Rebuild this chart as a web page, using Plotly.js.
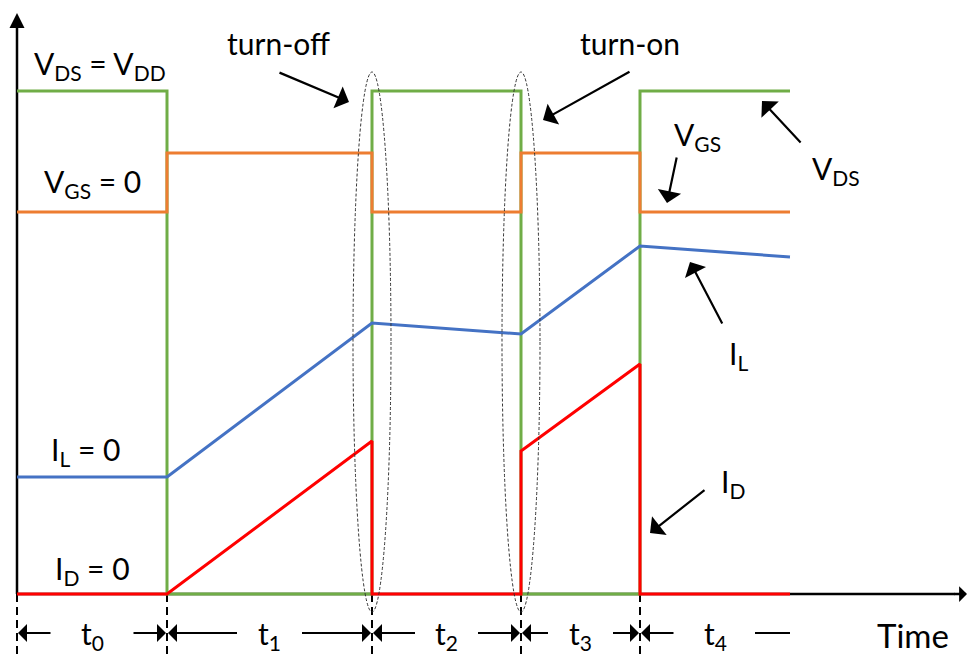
<!DOCTYPE html>
<html>
<head>
<meta charset="utf-8">
<script src="https://cdn.plot.ly/plotly-3.0.1.min.js"></script>
<style>html,body{margin:0;padding:0;background:#fff}#chart{width:968px;height:657px}</style>
</head>
<body>
<div id="chart"></div>
<script>
// ---- data (time in arbitrary units, levels in arbitrary units) ----
const tBound   = [0, 150, 355, 504, 623, 773];          // interval boundaries t0..t4
const tLabels  = ['t<sub>0</sub>', 't<sub>1</sub>', 't<sub>2</sub>', 't<sub>3</sub>', 't<sub>4</sub>'];

const vdsTime  = [0, 150, 150, 355, 355, 504, 504, 623, 623, 773];
const vdsLevel = [503, 503, 0, 0, 503, 503, 0, 0, 503, 503];

const vgsTime  = [0, 150, 150, 355, 355, 504, 504, 623, 623, 773];
const vgsLevel = [382, 382, 441, 441, 382, 382, 441, 441, 382, 382];

const ilTime   = [0, 150, 355, 504, 623, 773];
const ilLevel  = [117, 117, 271, 260, 348, 337];

const idTime   = [0, 150, 355, 355, 504, 504, 623, 623, 773];
const idLevel  = [0, 0, 153, 0, 0, 143, 230, 0, 0];

// ---- styles ----
const FONT = 'Lato, "Noto Sans", sans-serif';
const GREEN = '#70AD47', ORANGE = '#ED7D31', BLUE = '#4472C4', RED = '#FF0000';
const LW = 3;
const dimY = -39;            // level of the dimension arrows
const axisTop = 581, axisRight = 950;

const traces = [];
// axes lines (drawn first, under the signals)
traces.push({x: [0, axisRight - 12], y: [0, 0], mode: 'lines', line: {color: '#000', width: 2.5}, hoverinfo: 'skip'});
traces.push({x: [0, 0], y: [0, axisTop - 12], mode: 'lines', line: {color: '#000', width: 2.5}, hoverinfo: 'skip'});
// dashed boundary markers below the time axis
tBound.slice(0, 5).forEach(t => {
  traces.push({x: [t, t], y: [0, -63], mode: 'lines', line: {color: '#000', width: 2, dash: '8px,5px'}, hoverinfo: 'skip'});
});
traces.push({x: vdsTime, y: vdsLevel, mode: 'lines', line: {color: GREEN, width: LW}, hoverinfo: 'skip'});
traces.push({x: vgsTime, y: vgsLevel, mode: 'lines', line: {color: ORANGE, width: LW}, hoverinfo: 'skip'});
traces.push({x: ilTime, y: ilLevel, mode: 'lines', line: {color: BLUE, width: LW}, hoverinfo: 'skip'});
traces.push({x: idTime, y: idLevel, mode: 'lines', line: {color: RED, width: LW}, hoverinfo: 'skip'});

const ann = [];
function label(text, x, y, size, xanchor) {
  ann.push({text: text, x: x, y: y, xref: 'x', yref: 'y', showarrow: false,
            xanchor: xanchor || 'center', yanchor: 'middle',
            font: {family: FONT, size: size, color: '#000'}});
}
function arrow(x0, y0, x1, y1, head, width, size) {
  ann.push({text: '', x: x1, y: y1, ax: x0, ay: y0, xref: 'x', yref: 'y', axref: 'x', ayref: 'y',
            showarrow: true, arrowhead: head, arrowwidth: width, arrowsize: size, arrowcolor: '#000'});
}
// axis arrowheads
arrow(axisRight - 14, 0, axisRight, 0, 1, 2.5, 1.05);
arrow(0, axisTop - 16, 0, axisTop, 2, 2.5, 1.2);

// left labels
label('V<sub>DS</sub> = V<sub>DD</sub>', 83, 529, 30);
label('V<sub>GS</sub> = 0', 75, 411, 30);
label('I<sub>L</sub> = 0', 68, 143, 30);
label('I<sub>D</sub> = 0', 75, 24, 30);

// pointer labels
label('turn-off', 261, 551, 30);
label('turn-on', 613, 551, 30);
arrow(261, 522, 332, 492, 1, 2.2, 1.8);
arrow(614, 523, 526, 474, 1, 2.2, 1.8);

label('V<sub>DS</sub>', 819, 424, 30);
arrow(785, 450, 745, 493, 1, 2.2, 1.8);
label('V<sub>GS</sub>', 680, 458, 30);
arrow(660, 438, 650, 391, 1, 2.2, 1.8);
label('I<sub>L</sub>', 721, 239, 30);
arrow(706, 269, 673, 332, 1, 2.2, 1.8);
label('I<sub>D</sub>', 716, 111, 30);
arrow(689, 105, 633, 61, 1, 2.2, 1.8);

// dimension arrows and interval labels
const gaps = [40, 31, 30, 31, 40];
for (let i = 0; i < 5; i++) {
  const a = tBound[i], b = tBound[i + 1], c = (a + b) / 2, g = gaps[i];
  label(tLabels[i], c, dimY - 2, 30);
  arrow(c - g, dimY, a + 1, dimY, 1, 2, 1.5);
  if (i < 4) {
    arrow(c + g, dimY, b - 1, dimY, 1, 2, 1.5);
  } else {
    traces.push({x: [c + g, b], y: [dimY, dimY], mode: 'lines', line: {color: '#000', width: 2}, hoverinfo: 'skip'});
  }
}
label('Time', 896, -41, 33);

// dashed ellipses around switching instants
const shapes = [tBound[2], tBound[3]].map(t => ({
  type: 'circle', xref: 'x', yref: 'y', x0: t - 19, x1: t + 19, y0: -18, y1: 522,
  line: {color: '#333', width: 1, dash: '3px,2px'}, layer: 'above'
}));

const layout = {
  width: 968, height: 657,
  margin: {l: 0, r: 0, t: 0, b: 0},
  paper_bgcolor: '#fff', plot_bgcolor: '#fff',
  showlegend: false,
  xaxis: {range: [-17, 951], visible: false, fixedrange: true},
  yaxis: {range: [-63, 594], visible: false, fixedrange: true},
  annotations: ann,
  shapes: shapes,
  font: {family: FONT}
};
Plotly.newPlot('chart', traces, layout, {staticPlot: true, displayModeBar: false});
</script>
</body>
</html>
